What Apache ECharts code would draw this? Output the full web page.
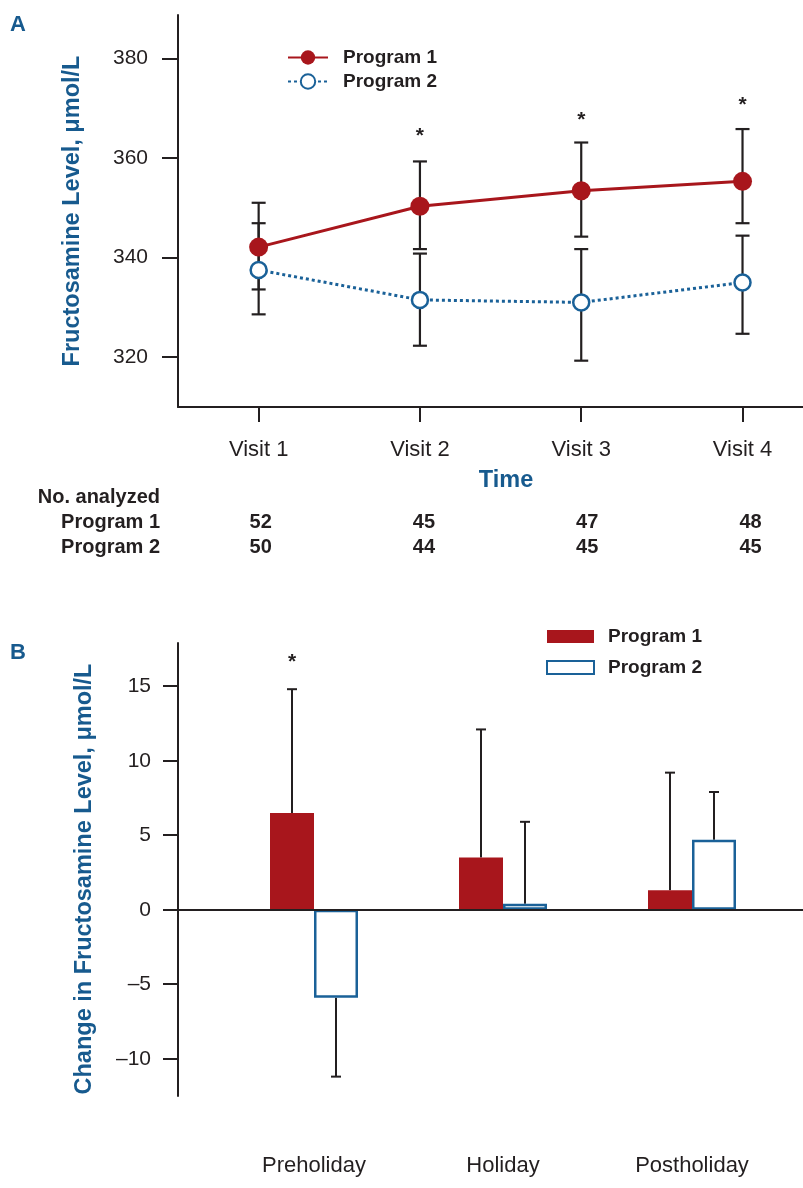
<!DOCTYPE html>
<html>
<head>
<meta charset="utf-8">
<script src="https://cdn.jsdelivr.net/npm/echarts@6/dist/echarts.min.js"></script>
<style>
  html, body { margin: 0; padding: 0; background: #fff; }
  #chart { width: 803px; height: 1188px; }
</style>
</head>
<body>
<div id="chart"></div>
<script>
// panel A: fructosamine level by visit
const visits = ['Visit 1', 'Visit 2', 'Visit 3', 'Visit 4'];
const p1Mean = [342.1, 350.3, 353.4, 355.3];
const p1Low = [333.6, 341.7, 344.2, 346.9];
const p1High = [351.0, 359.3, 363.1, 365.8];
const p2Mean = [337.5, 331.5, 331.0, 335.0];
const p2Low = [328.6, 322.3, 319.3, 324.7];
const p2High = [346.9, 340.8, 341.7, 344.4];
const starsA = [null, 364.3, 367.6, 370.6];
const nP1 = [52, 45, 47, 48];
const nP2 = [50, 44, 45, 45];
const yTicksA = [320, 340, 360, 380];

// panel B: change in fructosamine level
const periods = ['Preholiday', 'Holiday', 'Postholiday'];
const chgP1 = [6.5, 3.5, 1.3];
const chgP2 = [-5.9, 0.4, 4.7];
const errEndP1 = [14.8, 12.1, 9.2];
const errEndP2 = [-11.2, 5.9, 7.9];
const starsB = [16.6, null, null];
const yTicksB = [-10, -5, 0, 5, 10, 15];

const RED = '#a8161c';
const BLUE = '#1a6198';
const INK = '#231f20';
const TITLE = '#175a8e';
const FONT = '"Liberation Sans", Arial, sans-serif';
const BAR_W = 44;

const chart = echarts.init(document.getElementById('chart'));

const visitIdx = visits.map((v, i) => i);
const pairs = arr => arr.map((v, i) => [i, v]);

function errData(low, high) {
  return low.map((v, i) => [i, v, high[i]]);
}

function starData(arr) {
  const out = [];
  arr.forEach((v, i) => { if (v != null) out.push([i, v]); });
  return out;
}

function errItemA(params, api) {
  const lo = api.coord([api.value(0), api.value(1)]);
  const hi = api.coord([api.value(0), api.value(2)]);
  const x = lo[0], cap = 7;
  const st = { stroke: INK, lineWidth: 2.2 };
  return {
    type: 'group',
    children: [
      { type: 'line', shape: { x1: x, y1: lo[1], x2: x, y2: hi[1] }, style: st },
      { type: 'line', shape: { x1: x - cap, y1: lo[1], x2: x + cap, y2: lo[1] }, style: st },
      { type: 'line', shape: { x1: x - cap, y1: hi[1], x2: x + cap, y2: hi[1] }, style: st }
    ]
  };
}

// one sided bars, drawn from the bar top outwards
function errItemB(shift) {
  return function (params, api) {
    const a = api.coord([api.value(0), api.value(1)]);
    const b = api.coord([api.value(0), api.value(2)]);
    const x = a[0] + shift, cap = 5;
    const st = { stroke: INK, lineWidth: 2 };
    return {
      type: 'group',
      children: [
        { type: 'line', shape: { x1: x, y1: a[1], x2: x, y2: b[1] }, style: st },
        { type: 'line', shape: { x1: x - cap, y1: b[1], x2: x + cap, y2: b[1] }, style: st }
      ]
    };
  };
}

function starItem(shift) {
  return function (params, api) {
    const p = api.coord([api.value(0), api.value(1)]);
    return {
      type: 'text',
      x: p[0] + shift, y: p[1],
      style: { text: '*', font: 'bold 21px ' + FONT, fill: INK, align: 'center', verticalAlign: 'middle' }
    };
  };
}

const tickLabel = { color: INK, fontSize: 21, fontFamily: FONT };
const catLabel = { color: INK, fontSize: 22, fontFamily: FONT };
const axisName = { color: TITLE, fontSize: 23.5, fontWeight: 'bold', fontFamily: FONT };

const option = {
  animation: false,
  backgroundColor: '#fff',
  grid: [
    { left: 178, top: 15, right: 0, height: 392 },
    { left: 178, top: 643, right: 0, height: 453 },
    { left: 219.5, top: 643, width: 567, height: 453 }
  ],
  legend: [
    {
      data: ['Program 1', 'Program 2'],
      left: 282, top: 43, orient: 'vertical',
      itemWidth: 40, itemHeight: 18, itemGap: 5,
      textStyle: { color: INK, fontSize: 19, fontWeight: 'bold', fontFamily: FONT, padding: [0, 0, 0, 10] }
    },
    {
      data: ['B1', 'B2'],
      left: 541, top: 622, orient: 'vertical',
      icon: 'rect', itemWidth: 47, itemHeight: 13, itemGap: 12,
      formatter: n => (n === 'B1' ? 'Program 1' : 'Program 2'),
      textStyle: { color: INK, fontSize: 19, fontWeight: 'bold', fontFamily: FONT, padding: [0, 0, 0, 9] }
    }
  ],
  xAxis: [
    {
      // value axis so the visit columns keep their spacing past the right edge
      gridIndex: 0, type: 'value', min: -0.5, max: 3.375,
      axisLine: { onZero: false, lineStyle: { color: INK, width: 2 } },
      axisTick: { length: 15, customValues: visitIdx, lineStyle: { color: INK, width: 2 } },
      axisLabel: Object.assign({ margin: 32, customValues: visitIdx, formatter: v => visits[v] }, catLabel),
      splitLine: { show: false },
      name: 'Time', nameLocation: 'middle', nameGap: 62,
      nameTextStyle: Object.assign({ padding: [0, 0, 0, 31] }, axisName)
    },
    {
      gridIndex: 1, type: 'category', data: periods,
      axisLine: { lineStyle: { color: INK, width: 2 } },
      axisTick: { show: false }, axisLabel: { show: false }
    },
    {
      gridIndex: 2, type: 'category', data: periods, boundaryGap: true,
      axisLine: { show: false }, axisTick: { show: false },
      axisLabel: Object.assign({ margin: 59 }, catLabel)
    }
  ],
  yAxis: [
    {
      gridIndex: 0, type: 'value', min: 310, max: 388.7,
      axisLine: { show: true, onZero: false, lineStyle: { color: INK, width: 2 } },
      axisTick: { show: true, length: 16, customValues: yTicksA, lineStyle: { color: INK, width: 2 } },
      axisLabel: Object.assign({ margin: 30, customValues: yTicksA }, tickLabel),
      splitLine: { show: false },
      name: 'Fructosamine Level, \u03bcmol/L', nameLocation: 'middle', nameGap: 93,
      nameTextStyle: axisName
    },
    {
      gridIndex: 1, type: 'value', min: -12.5, max: 17.9,
      axisLine: { show: true, onZero: false, lineStyle: { color: INK, width: 2 } },
      axisTick: { show: true, length: 15, customValues: yTicksB, lineStyle: { color: INK, width: 2 } },
      axisLabel: Object.assign({
        margin: 27, customValues: yTicksB,
        formatter: v => String(v).replace('-', '\u2013')
      }, tickLabel),
      splitLine: { show: false },
      name: 'Change in Fructosamine Level, \u03bcmol/L', nameLocation: 'middle', nameGap: 81,
      nameTextStyle: Object.assign({ padding: [0, 19, 0, 0] }, axisName)
    },
    {
      gridIndex: 2, type: 'value', min: -12.5, max: 17.9, show: false,
      splitLine: { show: false }
    }
  ],
  series: [
    {
      name: 'errA1', type: 'custom', xAxisIndex: 0, yAxisIndex: 0, z: 1,
      renderItem: errItemA, data: errData(p1Low, p1High)
    },
    {
      name: 'errA2', type: 'custom', xAxisIndex: 0, yAxisIndex: 0, z: 1,
      renderItem: errItemA, data: errData(p2Low, p2High)
    },
    {
      name: 'Program 1', type: 'line', xAxisIndex: 0, yAxisIndex: 0, z: 4,
      data: pairs(p1Mean), symbol: 'circle', symbolSize: 19,
      lineStyle: { color: RED, width: 3 },
      itemStyle: { color: RED }
    },
    {
      name: 'Program 2', type: 'line', xAxisIndex: 0, yAxisIndex: 0, z: 3,
      data: pairs(p2Mean), symbol: 'circle', symbolSize: 16,
      lineStyle: { color: BLUE, width: 3, type: [3, 3] },
      itemStyle: { color: '#fff', borderColor: BLUE, borderWidth: 2.5 }
    },
    {
      name: 'starsA', type: 'custom', xAxisIndex: 0, yAxisIndex: 0,
      renderItem: starItem(0), data: starData(starsA)
    },
    {
      name: 'zero', type: 'line', xAxisIndex: 1, yAxisIndex: 1, data: [],
      markLine: {
        silent: true, symbol: 'none', label: { show: false },
        lineStyle: { color: INK, width: 2, type: 'solid' },
        data: [{ yAxis: 0 }]
      }
    },
    {
      name: 'B1', type: 'bar', xAxisIndex: 2, yAxisIndex: 2,
      data: chgP1, barWidth: BAR_W, barGap: '0%',
      itemStyle: { color: RED }
    },
    {
      name: 'B2', type: 'bar', xAxisIndex: 2, yAxisIndex: 2,
      data: chgP2, barWidth: BAR_W, barGap: '0%',
      itemStyle: { color: '#fff', borderColor: BLUE, borderWidth: 2.5 }
    },
    {
      name: 'errB1', type: 'custom', xAxisIndex: 2, yAxisIndex: 2, z: 1,
      renderItem: errItemB(-BAR_W / 2), data: errData(chgP1, errEndP1)
    },
    {
      name: 'errB2', type: 'custom', xAxisIndex: 2, yAxisIndex: 2, z: 1,
      renderItem: errItemB(BAR_W / 2), data: errData(chgP2, errEndP2)
    },
    {
      name: 'starsB', type: 'custom', xAxisIndex: 2, yAxisIndex: 2,
      renderItem: starItem(-BAR_W / 2), data: starData(starsB)
    }
  ]
};

chart.setOption(option);

// "No. analyzed" table under panel A, placed on the visit columns
const rowFont = 'bold 20px ' + FONT;
const graphics = [
  { type: 'text', left: 10, top: 14, style: { text: 'A', font: 'bold 22px ' + FONT, fill: TITLE } },
  { type: 'text', left: 10, top: 642, style: { text: 'B', font: 'bold 22px ' + FONT, fill: TITLE } },
  { type: 'text', x: 160, y: 497, style: { text: 'No. analyzed', font: rowFont, fill: INK, align: 'right', verticalAlign: 'middle' } },
  { type: 'text', x: 160, y: 522, style: { text: 'Program 1', font: rowFont, fill: INK, align: 'right', verticalAlign: 'middle' } },
  { type: 'text', x: 160, y: 547, style: { text: 'Program 2', font: rowFont, fill: INK, align: 'right', verticalAlign: 'middle' } }
];
visits.forEach((v, i) => {
  const x = chart.convertToPixel({ xAxisIndex: 0 }, i) + 2 + i * 2;
  graphics.push({ type: 'text', x: x, y: 522, style: { text: String(nP1[i]), font: rowFont, fill: INK, align: 'center', verticalAlign: 'middle' } });
  graphics.push({ type: 'text', x: x, y: 547, style: { text: String(nP2[i]), font: rowFont, fill: INK, align: 'center', verticalAlign: 'middle' } });
});
chart.setOption({ graphic: graphics });
</script>
</body>
</html>
